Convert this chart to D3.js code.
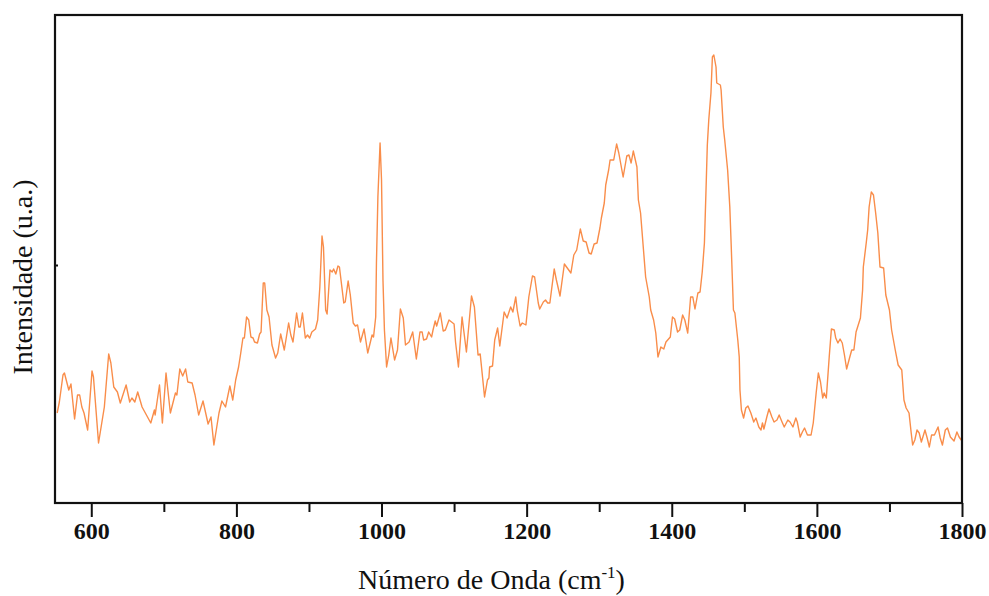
<!DOCTYPE html>
<html>
<head>
<meta charset="utf-8">
<script src="https://cdn.jsdelivr.net/npm/d3@7"></script>
<style>
  html, body { margin: 0; padding: 0; background: #ffffff; }
  svg { display: block; }
</style>
</head>
<body>
<svg id="chart" width="989" height="596"></svg>
<script>
// Raman spectrum: wavenumber (cm-1) and intensity (arbitrary units)
const wavenumbers = [
  553,556,561,563,569,572,577,581,584,587,
  590,595,601,603,610,618,624,627,631,636,
  640,648,653,656,660,664,670,676,682,687,
  688,694,698,703,709,716,718,722,726,730,
  733,739,743,748,754,761,765,769,776,780,
  785,791,795,799,803,806,809,811,814,817,
  820,823,825,829,832,834,837,839,842,845,
  849,854,857,861,866,872,875,878,883,886,
  888,891,895,898,901,904,909,912,915,918,
  920,923,925,929,932,934,937,940,942,948,
  950,954,957,961,964,967,971,976,981,987,
  989,992,993,995,998,1000,1002,1004,1007,1010,
  1013,1018,1022,1026,1030,1033,1038,1043,1048,1053,
  1056,1058,1062,1065,1069,1071,1074,1076,1081,1085,
  1088,1093,1100,1102,1106,1111,1117,1124,1128,1133,
  1136,1142,1146,1148,1149,1153,1156,1160,1163,1169,
  1173,1178,1181,1185,1187,1191,1194,1199,1203,1208,
  1211,1216,1218,1223,1226,1229,1232,1238,1241,1246,
  1252,1261,1265,1269,1274,1278,1282,1286,1289,1293,
  1297,1301,1303,1307,1309,1313,1315,1320,1324,1327,
  1333,1338,1341,1344,1347,1352,1354,1357,1364,1369,
  1371,1375,1378,1381,1385,1389,1392,1398,1401,1404,
  1408,1411,1415,1418,1422,1426,1429,1432,1436,1439,
  1442,1445,1447,1449,1451,1454,1456,1458,1461,1462,
  1467,1468,1471,1473,1477,1480,1482,1485,1487,1491,
  1493,1494,1496,1499,1502,1505,1509,1513,1516,1520,
  1523,1525,1527,1531,1534,1538,1541,1545,1548,1552,
  1555,1560,1563,1567,1571,1573,1577,1580,1583,1587,
  1592,1595,1599,1602,1605,1608,1610,1613,1617,1620,
  1624,1626,1629,1632,1635,1638,1641,1645,1648,1651,
  1654,1657,1660,1663,1664,1668,1670,1672,1675,1678,
  1681,1684,1687,1692,1695,1700,1703,1708,1712,1717,
  1720,1723,1727,1730,1732,1735,1738,1741,1744,1749,
  1752,1755,1758,1762,1767,1770,1773,1777,1780,1784,
  1789,1793,1796,1800
];

const intensities = [
  90,101,128,130,113,119,84,108,108,96,
  90,73,132,126,60,96,149,140,116,111,
  100,118,101,105,101,111,96,88,80,93,
  88,118,80,130,90,110,108,134,127,134,
  121,120,108,88,102,79,86,58,90,102,
  96,117,103,123,136,150,165,165,186,183,
  166,165,161,160,169,171,220,220,193,186,
  158,145,150,169,153,180,168,161,190,176,
  176,190,165,168,165,171,174,183,216,267,
  256,193,189,233,231,234,229,237,236,200,
  201,222,208,180,177,178,161,174,150,168,
  166,186,240,306,360,323,223,173,136,148,
  165,143,153,194,185,158,161,171,144,171,
  171,163,164,171,166,173,182,177,190,172,
  173,183,179,161,136,186,151,207,196,148,
  149,106,123,125,136,137,163,175,157,191,
  185,196,191,206,193,177,180,178,206,227,
  226,200,194,201,203,200,200,234,223,207,
  239,230,248,253,274,262,261,250,249,259,
  260,275,285,300,318,333,343,343,359,350,
  326,347,348,340,352,336,303,290,226,206,
  193,183,170,146,156,154,161,166,186,184,
  171,173,188,183,170,206,206,194,210,211,
  231,260,308,358,383,410,446,448,436,420,
  418,413,376,363,333,296,256,193,190,163,
  146,113,93,85,95,97,90,81,85,76,
  73,80,74,86,94,86,81,83,88,81,
  76,83,81,76,85,81,66,71,75,68,
  68,80,110,130,121,105,110,105,146,174,
  173,165,160,164,160,148,134,145,153,153,
  171,178,185,213,236,260,273,296,311,308,
  290,270,236,235,208,193,173,153,138,133,
  103,95,90,70,58,63,73,70,61,73,
  65,56,68,68,76,65,58,73,75,66,
  62,71,66,62
];

const xDomain = [550, 1800];
const yDomain = [0, 488];
const majorTicks = [600, 800, 1000, 1200, 1400, 1600, 1800];
const minorTicks = [700, 900, 1100, 1300, 1500, 1700];
const yMarks = [238];

const xTitle = "Número de Onda (cm";
const xTitleSup = "-1";
const yTitle = "Intensidade (u.a.)";

const spectrum = wavenumbers.map((w, i) => ({ w, v: intensities[i] }));

const svg = d3.select("#chart");
const plot = { left: 55, right: 962, top: 15, bottom: 503 };

const x = d3.scaleLinear().domain(xDomain).range([plot.left, plot.right]);
const y = d3.scaleLinear().domain(yDomain).range([plot.bottom, plot.top]);

const serif = "'Liberation Serif', 'Times New Roman', Times, serif";

// spectrum trace
svg.append("path")
  .datum(spectrum)
  .attr("fill", "none")
  .attr("stroke", "#f98d4a")
  .attr("stroke-width", 1.4)
  .attr("stroke-linejoin", "round")
  .attr("d", d3.line().x(d => x(d.w)).y(d => y(d.v)));

// bottom axis: major ticks with bold labels
const bottom = svg.append("g")
  .attr("transform", `translate(0,${plot.bottom})`)
  .call(d3.axisBottom(x).tickValues(majorTicks).tickSize(14).tickPadding(5).tickFormat(d3.format("d")));
bottom.select(".domain").remove();
bottom.selectAll(".tick line").attr("stroke", "#111").attr("stroke-width", 2);
bottom.selectAll(".tick text")
  .attr("font-family", serif)
  .attr("font-weight", "bold")
  .attr("font-size", 24)
  .attr("fill", "#111");

// bottom axis: minor ticks
const minor = svg.append("g")
  .attr("transform", `translate(0,${plot.bottom})`)
  .call(d3.axisBottom(x).tickValues(minorTicks).tickSize(9).tickFormat(""));
minor.select(".domain").remove();
minor.selectAll(".tick line").attr("stroke", "#111").attr("stroke-width", 2);

// left axis mark
const left = svg.append("g")
  .attr("transform", `translate(${plot.left},0)`)
  .call(d3.axisRight(y).tickValues(yMarks).tickSize(3).tickFormat(""));
left.select(".domain").remove();
left.selectAll(".tick line").attr("stroke", "#111").attr("stroke-width", 2);

// frame
svg.append("rect")
  .attr("x", plot.left)
  .attr("y", plot.top)
  .attr("width", plot.right - plot.left)
  .attr("height", plot.bottom - plot.top)
  .attr("fill", "none")
  .attr("stroke", "#111")
  .attr("stroke-width", 2.2);

// axis titles
const xt = svg.append("text")
  .attr("x", (plot.left + plot.right) / 2 - 17)
  .attr("y", 589)
  .attr("text-anchor", "middle")
  .attr("font-family", serif)
  .attr("font-size", 28)
  .attr("fill", "#111");
xt.append("tspan").text(xTitle);
xt.append("tspan").attr("font-size", 17).attr("dy", -11).text(xTitleSup);
xt.append("tspan").attr("dy", 11).text(")");

svg.append("text")
  .attr("transform", "translate(32,277) rotate(-90)")
  .attr("text-anchor", "middle")
  .attr("font-family", serif)
  .attr("font-size", 28)
  .attr("fill", "#111")
  .text(yTitle);
</script>
</body>
</html>
